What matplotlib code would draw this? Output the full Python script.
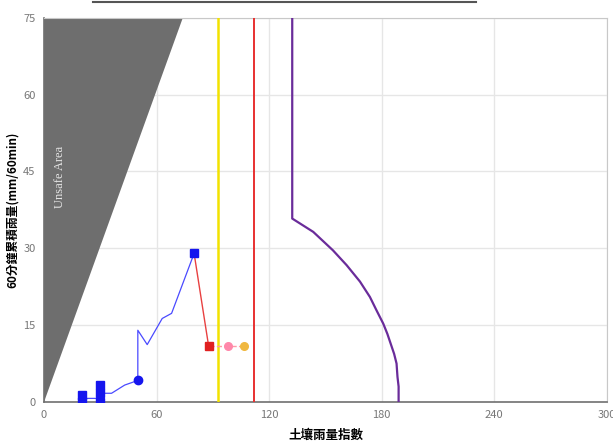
import matplotlib
matplotlib.use("Agg")
import matplotlib.pyplot as plt
from matplotlib.lines import Line2D

plt.rcParams['font.family'] = ['Noto Sans CJK TC', 'DejaVu Sans']

# unsafe area polygon (x, y)
unsafe_x = [0, 74, 0]
unsafe_y = [0, 75, 75]

# observed rainfall path (soil rain index, 60-min rainfall)
blue_x = [20, 20, 20, 30, 30, 30, 30, 36, 43, 50, 50, 55, 63, 68, 80]
blue_y = [0, 1.4, 0.7, 0.7, 0, 3.3, 1.7, 1.7, 3.3, 4.2, 14, 11.2, 16.3, 17.3, 29]
blue_sq = [0, 1, 4, 5, 6, 14]
blue_dot = [9]

# forecast points
fc_x = [80, 87.7]
fc_y = [29, 11]
fut_x = [87.7, 98, 106.5]
fut_y = [11, 11, 11]
fut_colors = ['#e02020', '#ff88aa', '#f0b840']
fut_markers = ['s', 'o', 'o']

# warning lines
yellow_x = 92.5
red_x = 112

# critical line (CL)
cl_x = [132.3, 132.3, 143.5, 154, 161.3, 168.4, 173.7, 177.2, 180.8, 183,
        186.6, 187.9, 188.4, 189, 189, 189]
cl_y = [75, 35.8, 33.2, 29.6, 26.7, 23.5, 20.5, 17.9, 15.3, 13.3,
        9.4, 7.5, 4.9, 3, 1.0, 0]

fig = plt.figure(figsize=(6.13, 4.43), dpi=100)
ax = fig.add_axes([0.0718, 0.0926, 0.9182, 0.8674])

ax.fill(unsafe_x, unsafe_y, color='#6e6e6e', zorder=2, lw=0)
ax.text(8.5, 44, 'Unsafe Area', rotation=90, color='#e6e6e6', fontsize=9,
        family='Liberation Serif', ha='center', va='center', zorder=3)

ax.axvline(yellow_x, color='#f2e200', lw=1.8, zorder=3)
ax.axvline(red_x, color='#e83030', lw=1.4, zorder=3)
ax.plot(cl_x, cl_y, color='#6a2c9a', lw=1.6, zorder=3, solid_joinstyle='round')

ax.plot(blue_x, blue_y, color='#4a4aff', lw=0.9, zorder=4)
ax.plot([blue_x[i] for i in blue_sq], [blue_y[i] for i in blue_sq], 's',
        color='#1515ee', ms=5.5, zorder=5, ls='none')
ax.plot([blue_x[i] for i in blue_dot], [blue_y[i] for i in blue_dot], 'o',
        color='#1515ee', ms=6, zorder=5, ls='none')

ax.plot(fc_x, fc_y, color='#e84040', lw=1.0, zorder=4)
ax.plot(fut_x, fut_y, color='#ff9aa8', lw=1.0, ls='--', zorder=4)
for x, y, c, m in zip(fut_x, fut_y, fut_colors, fut_markers):
    ax.plot([x], [y], m, color=c, ms=5.5, zorder=5)

ax.set_xlim(0, 300)
ax.set_ylim(0, 75)
ax.set_xticks([0, 60, 120, 180, 240, 300])
ax.set_yticks([0, 15, 30, 45, 60, 75])
ax.grid(True, color='#e6e6e6', lw=1.0, zorder=0)
ax.tick_params(labelsize=8, colors='#777777', length=0, pad=6)
for s in ['top', 'right']:
    ax.spines[s].set_color('#c8c8c8')
for s in ['left', 'bottom']:
    ax.spines[s].set_color('#707070')
    ax.spines[s].set_linewidth(1.2)

ax.set_xlabel('土壤雨量指數', fontsize=9, fontweight='bold', labelpad=6)
ax.set_ylabel('60分鐘累積雨量(mm/60min)', fontsize=8.5, fontweight='bold', labelpad=3)

fig.add_artist(Line2D([93 / 613, 476 / 613], [1 - 1.5 / 443, 1 - 1.5 / 443],
                      color='#555555', lw=1.5))

fig.savefig('out.png', dpi=100)
